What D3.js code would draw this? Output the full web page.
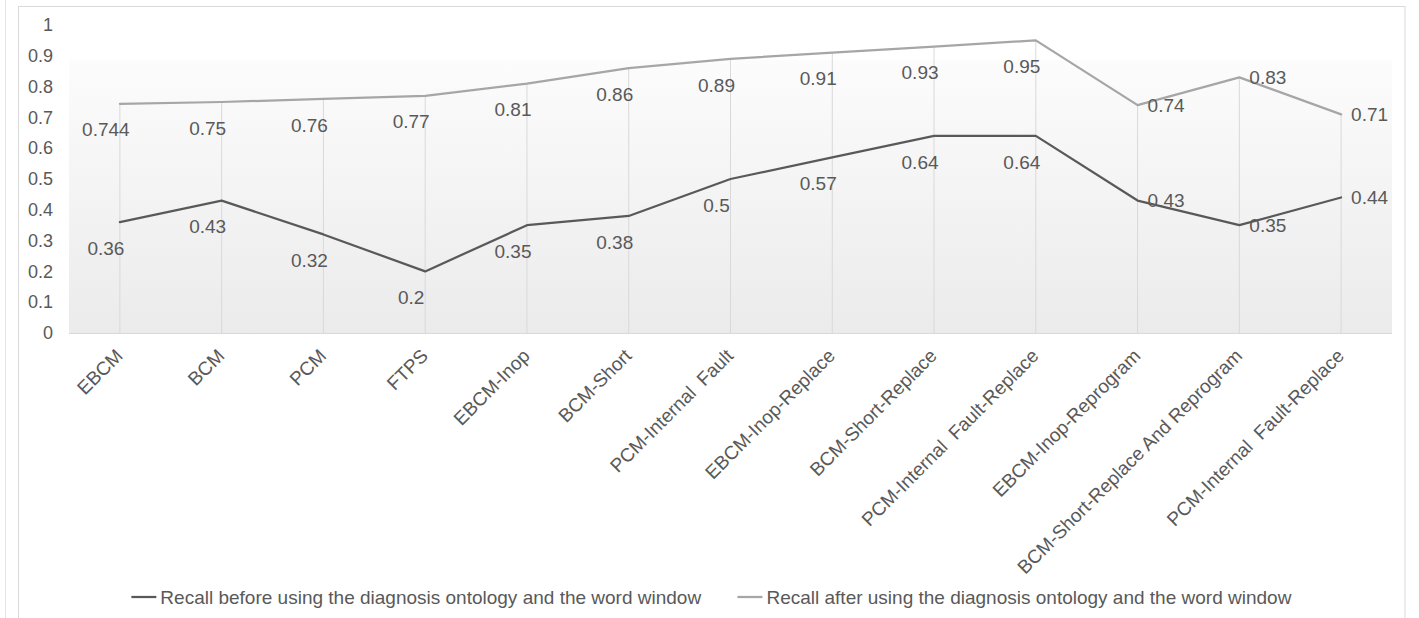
<!DOCTYPE html>
<html>
<head>
<meta charset="utf-8">
<script src="https://cdn.jsdelivr.net/npm/d3@7"></script>
<style>
  html, body { margin: 0; padding: 0; background: #ffffff; }
  svg { display: block; font-family: "Liberation Sans", Arial, sans-serif; }
</style>
</head>
<body>
<svg id="chart" width="1419" height="618"></svg>
<script>
// Category names along the x axis
const categories = [
  "EBCM", "BCM", "PCM", "FTPS", "EBCM-Inop", "BCM-Short", "PCM-Internal  Fault",
  "EBCM-Inop-Replace", "BCM-Short-Replace", "PCM-Internal  Fault-Replace",
  "EBCM-Inop-Reprogram", "BCM-Short-Replace And Reprogram", "PCM-Internal  Fault-Replace"
];

// Recall values for the two series
const recallBefore = [0.36, 0.43, 0.32, 0.2, 0.35, 0.38, 0.5, 0.57, 0.64, 0.64, 0.43, 0.35, 0.44];
const recallAfter  = [0.744, 0.75, 0.76, 0.77, 0.81, 0.86, 0.89, 0.91, 0.93, 0.95, 0.74, 0.83, 0.71];

// Series names shown in the legend
const seriesNames = [
  "Recall before using the diagnosis ontology and the word window",
  "Recall after using the diagnosis ontology and the word window"
];

// Y axis tick values
const yTicks = [0, 0.1, 0.2, 0.3, 0.4, 0.5, 0.6, 0.7, 0.8, 0.9, 1];

// ---- layout ----
const W = 1419, H = 618;
const plot = { left: 69, right: 1392, top: 25, bottom: 333, shadeTop: 60 };
const colors = { before: "#595959", after: "#a6a6a6", text: "#595959", frame: "#d9d9d9" };
const axisFont = 18, labelFont = 19;

const svg = d3.select("#chart");

// chart frame
svg.append("line").attr("x1", 5.5).attr("x2", 5.5).attr("y1", 0).attr("y2", H)
  .attr("stroke", "#e3e3e3").attr("stroke-width", 1);
svg.append("rect").attr("x", 18.5).attr("y", 6.5).attr("width", 1405 - 18.5).attr("height", H)
  .attr("fill", "none").attr("stroke", colors.frame).attr("stroke-width", 1);

const x = d3.scaleBand().domain(d3.range(categories.length)).range([plot.left, plot.right]);
const cx = i => x(i) + x.bandwidth() / 2;
const y = d3.scaleLinear().domain([0, 1]).range([plot.bottom, plot.top]);

// plot area gradient fill
const defs = svg.append("defs");
const grad = defs.append("linearGradient").attr("id", "plotFill")
  .attr("x1", 0).attr("y1", 0).attr("x2", 0).attr("y2", 1);
grad.append("stop").attr("offset", "0%").attr("stop-color", "#fcfcfc");
grad.append("stop").attr("offset", "100%").attr("stop-color", "#ebebeb");

svg.append("rect")
  .attr("x", plot.left).attr("y", plot.shadeTop)
  .attr("width", plot.right - plot.left).attr("height", plot.bottom - plot.shadeTop)
  .attr("fill", "url(#plotFill)");

// x axis baseline
svg.append("line")
  .attr("x1", plot.left).attr("x2", plot.right)
  .attr("y1", plot.bottom + 0.5).attr("y2", plot.bottom + 0.5)
  .attr("stroke", colors.frame).attr("stroke-width", 1);

// y axis (labels only)
const yAxis = svg.append("g")
  .attr("transform", `translate(${plot.left},0)`)
  .call(d3.axisLeft(y).tickValues(yTicks).tickSize(0).tickPadding(16).tickFormat(d3.format("")));
yAxis.select(".domain").remove();
yAxis.selectAll("text")
  .attr("fill", colors.text)
  .style("font-size", axisFont + "px")
  .style("font-family", '"Liberation Sans", Arial, sans-serif');

// drop lines from the upper series down to the baseline
svg.append("g").selectAll("line")
  .data(recallAfter)
  .join("line")
  .attr("x1", (d, i) => cx(i)).attr("x2", (d, i) => cx(i))
  .attr("y1", d => y(d)).attr("y2", plot.bottom)
  .attr("stroke", colors.frame).attr("stroke-width", 1);

// series lines
const line = d3.line().x((d, i) => cx(i)).y(d => y(d));
svg.append("path").datum(recallAfter)
  .attr("d", line).attr("fill", "none")
  .attr("stroke", colors.after).attr("stroke-width", 2.25)
  .attr("stroke-linejoin", "round").attr("stroke-linecap", "round");
svg.append("path").datum(recallBefore)
  .attr("d", line).attr("fill", "none")
  .attr("stroke", colors.before).attr("stroke-width", 2.25)
  .attr("stroke-linejoin", "round").attr("stroke-linecap", "round");

// data labels: below the point for the first ten categories, right of it for the last three
function drawLabels(values) {
  svg.append("g").selectAll("text")
    .data(values)
    .join("text")
    .attr("x", (d, i) => i < 10 ? cx(i) - 14 : cx(i) + 10)
    .attr("y", (d, i) => i < 10 ? y(d) + 26 : y(d))
    .attr("dy", "0.35em")
    .attr("text-anchor", (d, i) => i < 10 ? "middle" : "start")
    .attr("fill", colors.text)
    .style("font-size", labelFont + "px")
    .text(d => String(d));
}
drawLabels(recallAfter);
drawLabels(recallBefore);

// rotated category labels
svg.append("g").selectAll("text")
  .data(categories)
  .join("text")
  .attr("transform", (d, i) => `translate(${cx(i) + 4},${plot.bottom + 24}) rotate(-45)`)
  .attr("text-anchor", "end")
  .attr("fill", colors.text)
  .style("font-size", labelFont + "px")
  .style("white-space", "pre")
  .text(d => d);

// legend, centred under the chart frame
const legend = svg.append("g");
const legendY = 597;
const items = legend.selectAll("g")
  .data(seriesNames)
  .join("g");
items.append("line")
  .attr("x1", 0).attr("x2", 25).attr("y1", legendY).attr("y2", legendY)
  .attr("stroke", (d, i) => i === 0 ? colors.before : colors.after)
  .attr("stroke-width", 2.25);
items.append("text")
  .attr("x", 29).attr("y", legendY).attr("dy", "0.35em")
  .attr("fill", colors.text)
  .style("font-size", labelFont + "px")
  .text(d => d);

const widths = [];
items.each(function () { widths.push(this.getBBox().width); });
const gap = 36;
const total = d3.sum(widths) + gap * (widths.length - 1);
let offset = (18 + 1405) / 2 - total / 2;
items.attr("transform", (d, i) => {
  const t = `translate(${offset},0)`;
  offset += widths[i] + gap;
  return t;
});
</script>
</body>
</html>
